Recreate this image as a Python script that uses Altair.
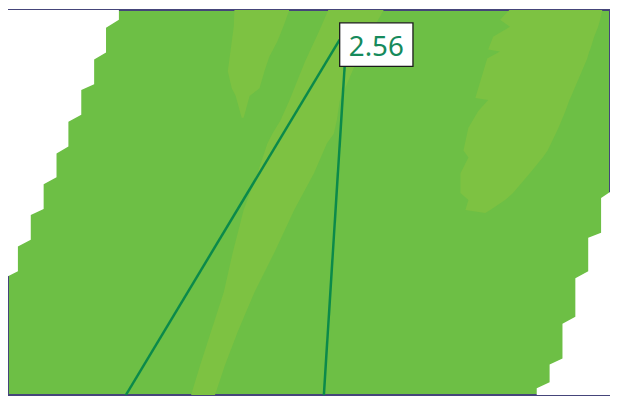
import altair as alt
import pandas as pd

# visible window in reference pixel units
X_MIN, X_MAX = 8, 616
Y_MIN, Y_MAX = 8, 397

# light-green band, centre (y, left x, right x)
band_c_y = [0, 30, 60, 100, 120, 133, 143, 173, 210, 253, 293, 333, 367, 400]
band_c_l = [335, 322, 308, 292, 283, 275, 270, 260, 246, 235, 226, 213, 202, 192]
band_c_r = [392, 375, 360, 343, 340, 337, 330, 317, 297, 277, 257, 240, 227, 216]

# light-green chunk, upper middle
band_t_y = [0, 25, 40, 55, 70, 87, 95, 117]
band_t_l = [237, 236, 234, 232, 230, 234, 238, 244]
band_t_r = [295, 286, 280, 272, 267, 262, 252, 246]

# light-green band, right
band_r_y = [0, 18, 25, 35, 48, 50, 57, 97, 99, 110, 127, 150, 157, 173, 193, 200, 210, 213]
band_r_l = [522, 505, 515, 498, 493, 505, 492, 480, 493, 483, 473, 468, 473, 465, 465, 473, 470, 490]
band_r_r = [610, 606, 604, 600, 596, 595, 593, 576, 575, 571, 564, 553, 548, 535, 518, 510, 495, 490]

# white staircase, top left (y, boundary x)
white_l_y = [0, 18, 26, 51, 58, 83, 89, 114, 121, 146, 153, 177, 184, 209, 215, 240, 247, 272, 278, 303, 305, 400]
white_l_x = [120, 120, 107, 107, 95, 95, 82, 82, 69, 69, 57, 57, 44, 44, 31, 31, 18, 18, 6, 6, 0, 0]

# white staircase, bottom right (y, boundary x)
white_r_y = [188, 198, 233, 238, 272, 279, 318, 325, 360, 366, 384, 390, 400]
white_r_x = [622, 607, 607, 594, 594, 581, 581, 568, 568, 555, 555, 542, 542]

# leader lines
line_id = ["a", "a", "b", "b"]
line_x = [343, 127, 348, 327]
line_y = [38, 397, 65, 397]

# label
label_text = ["2.56"]
box_x, box_x2, box_y, box_y2 = [343], [417], [21], [65]
text_x, text_y = [380], [55]

GREEN = "#6dbf45"
LIGHT = "#7dc242"
LINE = "#0b8a4a"
TEXT = "#168a5c"

xs = alt.Scale(domain=[X_MIN, X_MAX], nice=False, zero=False)
ys = alt.Scale(domain=[Y_MIN, Y_MAX], nice=False, zero=False, reverse=True)


def band(ylist, l, r, color):
    df = pd.DataFrame({"y": ylist, "x": l, "x2": r})
    return alt.Chart(df).mark_area(orient="horizontal", color=color, clip=True).encode(
        y=alt.Y("y:Q", scale=ys, axis=None),
        x=alt.X("x:Q", scale=xs, axis=None),
        x2="x2:Q",
    )


layers = [
    band(band_c_y, band_c_l, band_c_r, LIGHT),
    band(band_t_y, band_t_l, band_t_r, LIGHT),
    band(band_r_y, band_r_l, band_r_r, LIGHT),
    band(white_l_y, [-50] * len(white_l_y), white_l_x, "white"),
    band(white_r_y, white_r_x, [700] * len(white_r_y), "white"),
]

lines = alt.Chart(pd.DataFrame({"id": line_id, "x": line_x, "y": line_y})).mark_line(
    color=LINE, strokeWidth=2.5, clip=True
).encode(
    x=alt.X("x:Q", scale=xs, axis=None),
    y=alt.Y("y:Q", scale=ys, axis=None),
    detail="id:N",
)

box = alt.Chart(pd.DataFrame({"x": box_x, "x2": box_x2, "y": box_y, "y2": box_y2})).mark_rect(
    fill="white", stroke="#1a1a1a", strokeWidth=1.3
).encode(
    x=alt.X("x:Q", scale=xs, axis=None),
    x2="x2:Q",
    y=alt.Y("y:Q", scale=ys, axis=None),
    y2="y2:Q",
)

text = alt.Chart(pd.DataFrame({"x": text_x, "y": text_y, "t": label_text})).mark_text(
    font="Noto Sans", fontSize=28, color=TEXT, align="center", baseline="alphabetic"
).encode(
    x=alt.X("x:Q", scale=xs, axis=None),
    y=alt.Y("y:Q", scale=ys, axis=None),
    text="t:N",
)

chart = alt.layer(*layers, lines, box, text).properties(
    width=X_MAX - X_MIN, height=Y_MAX - Y_MIN, padding=0
).configure_view(fill=GREEN, stroke="#45457a", strokeWidth=2)

chart.save("out.html", embed_options={"renderer": "svg", "actions": False})
